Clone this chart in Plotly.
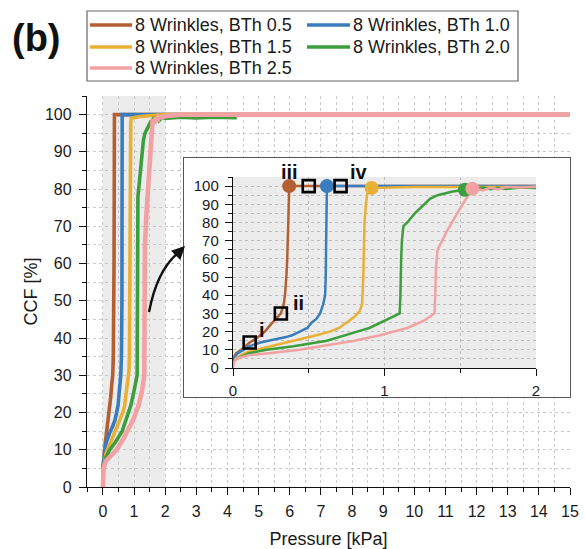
import plotly.graph_objects as go

FONT = "Liberation Sans, Arial, sans-serif"

names = ["8 Wrinkles, BTh 0.5", "8 Wrinkles, BTh 1.0", "8 Wrinkles, BTh 1.5",
         "8 Wrinkles, BTh 2.0", "8 Wrinkles, BTh 2.5"]
colors = ["#B35F33", "#3A7DBE", "#E9B035", "#3C9E3C", "#F2A2A2"]

x_b05 = [0, 0.02, 0.055, 0.08, 0.11, 0.15, 0.21, 0.25, 0.29, 0.316, 0.335, 0.343, 0.352,
         0.358, 0.365, 0.369, 0.371, 0.5, 1.0, 2.0, 5, 10, 15]
y_b05 = [5, 8, 10, 12, 14, 16, 20, 24, 28, 30, 35, 40, 50, 60, 80, 92, 100, 100, 100,
         100, 100, 100, 100]

x_b10 = [0, 0.03, 0.07, 0.11, 0.18, 0.24, 0.3, 0.35, 0.39, 0.44, 0.49, 0.52, 0.55,
         0.575, 0.595, 0.608, 0.612, 0.615, 0.618, 0.62, 1.0, 2.0, 5, 10, 15]
y_b10 = [5, 8, 10, 12, 14, 15, 16, 17, 18, 20, 22, 25, 27, 30, 35, 40, 50, 70, 90,
         100, 100, 100, 100, 100, 100]

x_b15 = [0, 0.05, 0.1, 0.2, 0.3, 0.42, 0.55, 0.64, 0.7, 0.75, 0.8, 0.835, 0.852,
         0.86, 0.864, 0.868, 0.877, 0.885, 0.895, 0.915, 1.2, 2.0, 5, 10, 15]
y_b15 = [4, 7, 9, 11, 13, 15, 18, 20, 22, 25, 28, 31, 35, 50, 65, 80, 90, 95, 98,
         99, 99.5, 100, 100, 100, 100]

x_b20 = [0, 0.05, 0.1, 0.22, 0.4, 0.62, 0.75, 0.82, 0.9, 0.98, 1.05, 1.1, 1.105, 1.11,
         1.115, 1.125, 1.15, 1.2, 1.24, 1.3, 1.35, 1.45, 1.53, 1.6, 1.65, 1.7, 1.75,
         1.8, 1.85, 1.9, 2.0, 2.5, 3.0, 3.5, 4.3]
y_b20 = [4, 6, 8, 10, 12, 15, 18, 20, 22, 25, 28, 30, 40, 60, 70, 78, 80, 85, 88, 93,
         95, 97, 98, 98.6, 99.2, 98.3, 99.1, 98.4, 98.8, 99.2, 99.0, 99.3, 99.1, 99.3, 99.2]

x_b25 = [0, 0.005, 0.02, 0.1, 0.22, 0.44, 0.66, 0.8, 0.97, 1.15, 1.26, 1.33, 1.335,
         1.34, 1.35, 1.41, 1.48, 1.535, 1.575, 1.6, 1.65, 1.7, 1.75, 1.8, 1.9, 2.0,
         2.5, 5, 10, 15]
y_b25 = [0, 3, 5, 7, 8, 10, 13, 15, 18, 22, 26, 30, 40, 55, 65, 75, 85, 93, 98, 98.8,
         97.6, 99.2, 98.2, 99.5, 99.2, 99.6, 100, 100, 100, 100]

series_x = [x_b05, x_b10, x_b15, x_b20, x_b25]
series_y = [y_b05, y_b10, y_b15, y_b20, y_b25]

end_x = [0.371, 0.62, 0.915, 1.53, 1.58]
end_y = [100, 100, 99, 98, 98.5]

sq_x = [0.11, 0.316, 0.5, 0.71]
sq_y = [14, 30, 100, 100]

lab_text = ["i", "ii", "iii", "iv"]
lab_x = [0.19, 0.43, 0.375, 0.83]
lab_y = [21, 36, 108, 108]

# ---- layout geometry (pixels -> paper) ----
W, H = 585, 549
ML, MR, MT, MB = 87, 15, 96, 62
PW, PH = W - ML - MR, H - MT - MB


def px(x):
    return (x - ML) / PW


def py(y):
    return (H - MB - y) / PH


INSET_X = [px(233), px(536)]
INSET_Y = [py(368), py(177)]
BOX_X = [px(184), 1.0]
BOX_Y = [py(397), py(158)]


def inset_paper(xv, yv):
    return (INSET_X[0] + xv / 2.0 * (INSET_X[1] - INSET_X[0]),
            INSET_Y[0] + yv / 105.0 * (INSET_Y[1] - INSET_Y[0]))


fig = go.Figure()

for n, c, xs, ys in zip(names, colors, series_x, series_y):
    fig.add_trace(go.Scatter(x=xs, y=ys, mode="lines", name=n, showlegend=False,
                             line=dict(color=c, width=3.6 if c != colors[4] else 4.6),
                             xaxis="x", yaxis="y", cliponaxis=False))

fig.add_trace(go.Scatter(x=[None], y=[None], xaxis="x2", yaxis="y2",
                         showlegend=False, hoverinfo="skip"))

for n, c, xs, ys in zip(names, colors, series_x, series_y):
    fig.add_trace(go.Scatter(x=xs, y=ys, mode="lines", showlegend=False,
                             line=dict(color=c, width=2.5),
                             xaxis="x3", yaxis="y3"))
for ex, ey, c in zip(end_x, end_y, colors):
    fig.add_trace(go.Scatter(x=[ex], y=[ey], mode="markers", showlegend=False,
                             marker=dict(color=c, size=14, symbol="circle"),
                             xaxis="x3", yaxis="y3", cliponaxis=False))
fig.add_trace(go.Scatter(x=sq_x, y=sq_y, mode="markers", showlegend=False,
                         marker=dict(symbol="square-open", size=12, color="black",
                                     line=dict(width=2.6, color="black")),
                         xaxis="x3", yaxis="y3", cliponaxis=False))

grid_c = "#c9c9c9"
tickfont = dict(family=FONT, size=16, color="#1a1a1a")
itickfont = dict(family=FONT, size=15, color="#1a1a1a")


def axis_common(font, ticklen, standoff):
    return dict(ticks="outside", ticklen=ticklen, tickwidth=1.3, tickcolor="#111",
                showline=True, linecolor="#111", linewidth=1.4, zeroline=False,
                tickfont=font, ticklabelstandoff=standoff, automargin=False)


fig.update_layout(
    width=W, height=H,
    margin=dict(l=ML, r=MR, t=MT, b=MB, autoexpand=False),
    paper_bgcolor="white", plot_bgcolor="white",
    font=dict(family=FONT, color="#1a1a1a"),
    showlegend=False,
    xaxis=dict(domain=[0, 1], range=[-0.51, 15.0], tickmode="linear", tick0=0, dtick=1,
               showgrid=True, gridcolor=grid_c, griddash="dot", gridwidth=1,
               minor=dict(tick0=0, dtick=0.5, ticks="outside", ticklen=4,
                          tickcolor="#111", showgrid=True, gridcolor=grid_c,
                          griddash="dot"),
               title=dict(text="Pressure [kPa]", font=dict(family=FONT, size=18),
                          standoff=16),
               **axis_common(tickfont, 7, 3)),
    yaxis=dict(domain=[0, 1], range=[0, 105], tickmode="linear", tick0=0, dtick=10,
               showgrid=True, gridcolor=grid_c, griddash="dot", gridwidth=1,
               minor=dict(tick0=0, dtick=5, ticks="outside", ticklen=4,
                          tickcolor="#111", showgrid=True, gridcolor=grid_c,
                          griddash="dot"),
               title=dict(text="CCF [%]", font=dict(family=FONT, size=18),
                          standoff=2),
               **axis_common(tickfont, 7, 4)),
    xaxis2=dict(domain=BOX_X, anchor="y2", range=[0, 1], showline=True,
                mirror=True, linecolor="#555", linewidth=1.2, showgrid=False,
                zeroline=False, showticklabels=False, ticks=""),
    yaxis2=dict(domain=BOX_Y, anchor="x2", range=[0, 1], showline=True,
                mirror=True, linecolor="#555", linewidth=1.2, showgrid=False,
                zeroline=False, showticklabels=False, ticks=""),
    xaxis3=dict(domain=INSET_X, anchor="y3", range=[0, 2], tickmode="linear",
                tick0=0, dtick=1, showgrid=True, gridcolor="#bdbdbd", griddash="dot",
                minor=dict(tick0=0, dtick=0.5, ticks="outside", ticklen=4,
                           tickcolor="#111", showgrid=True, gridcolor="#bdbdbd",
                           griddash="dot"),
                **axis_common(itickfont, 7, 2)),
    yaxis3=dict(domain=INSET_Y, anchor="x3", range=[0, 105], tickmode="linear",
                tick0=0, dtick=10, showgrid=True, gridcolor="#bdbdbd", griddash="dot",
                minor=dict(tick0=0, dtick=5, ticks="outside", ticklen=4,
                           tickcolor="#111", showgrid=True, gridcolor="#bdbdbd",
                           griddash="dot"),
                **axis_common(itickfont, 7, 3)),
)

shapes = [
    dict(type="rect", xref="x", yref="y", x0=0, x1=2, y0=0, y1=105,
         fillcolor="#ececec", line=dict(width=0), layer="below"),
    dict(type="rect", xref="x3", yref="y3", x0=0, x1=2, y0=0, y1=105,
         fillcolor="#ececec", line=dict(width=0), layer="below"),
    dict(type="path", xref="paper", yref="paper",
         path="M %.4f %.4f Q %.4f %.4f %.4f %.4f" % (px(149), py(312), px(157), py(270),
                                                     px(179), py(252)),
         line=dict(color="#111", width=2.4), layer="above"),
    # legend box
    dict(type="rect", xref="paper", yref="paper", x0=px(87), x1=px(518),
         y0=py(81), y1=py(11), fillcolor="white", line=dict(color="#666", width=1.2)),
]

annotations = [
    dict(text="<b>(b)</b>", xref="paper", yref="paper", x=px(10), y=py(38),
         xanchor="left", yanchor="middle", showarrow=False,
         font=dict(family=FONT, size=38, color="#111")),
    dict(x=px(185), y=py(246), xref="paper", yref="paper", ax=-10, ay=10,
         axref="pixel", ayref="pixel", showarrow=True, arrowhead=2, arrowsize=1.1,
         arrowwidth=2.4, arrowcolor="#111", text=""),
]

# manual legend entries (line sample + real text)
leg_rows = [25, 47, 68]
leg_cols = [(90, 132, 133), (307, 350, 351)]
for i, (n, c) in enumerate(zip(names, colors)):
    r, col = divmod(i, 2)
    lx0, lx1, tx = leg_cols[col]
    yy = py(leg_rows[r])
    shapes.append(dict(type="line", xref="paper", yref="paper", x0=px(lx0), x1=px(lx1),
                       y0=yy, y1=yy, line=dict(color=c, width=3.6)))
    annotations.append(dict(text=n, xref="paper", yref="paper", x=px(tx), y=yy,
                            xanchor="left", yanchor="middle", showarrow=False,
                            font=dict(family=FONT, size=18, color="#1a1a1a")))

for t, lx, ly in zip(lab_text, lab_x, lab_y):
    ax_, ay_ = inset_paper(lx, ly)
    annotations.append(dict(text="<b>" + t + "</b>", x=ax_, y=ay_, xref="paper",
                            yref="paper", showarrow=False, xanchor="center",
                            yanchor="middle",
                            font=dict(family=FONT, size=20, color="#111")))

fig.update_layout(shapes=shapes, annotations=annotations)

fig.write_html("out.html")
